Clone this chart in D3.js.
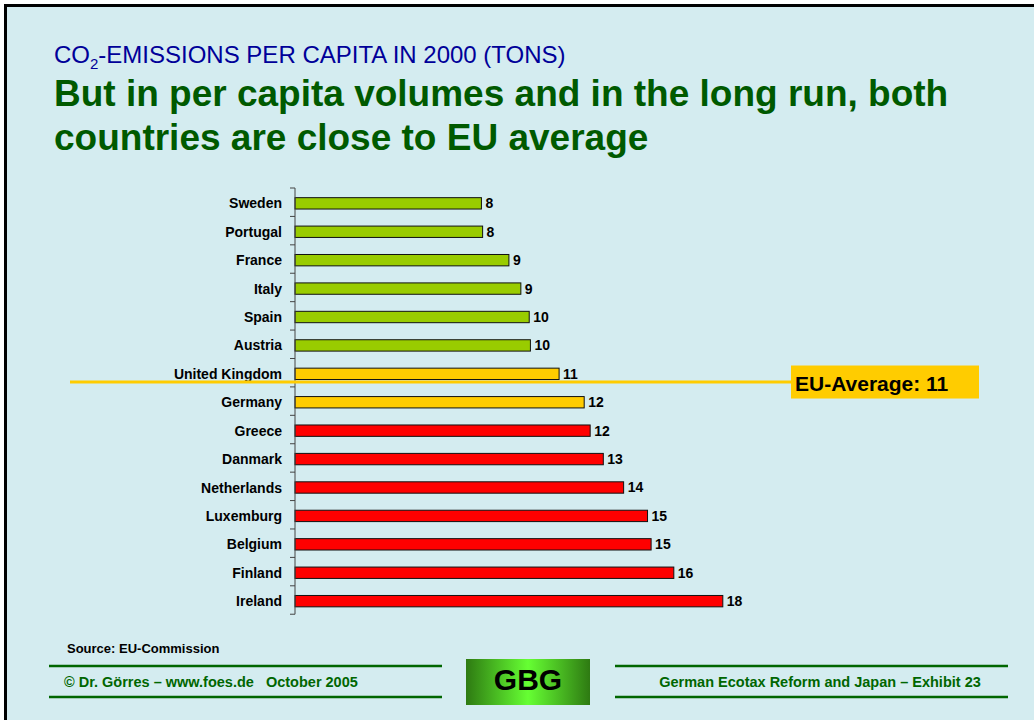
<!DOCTYPE html>
<html>
<head>
<meta charset="utf-8">
<script src="https://cdn.jsdelivr.net/npm/d3@7"></script>
<style>
  html, body { margin: 0; padding: 0; background: #ffffff; }
  svg { display: block; font-family: Arial, "Liberation Sans", sans-serif; }
</style>
</head>
<body>
<svg id="chart" width="1034" height="720"></svg>
<script>
/* data: tons of CO2 per capita, 2000 */
var countries = ["Sweden", "Portugal", "France", "Italy", "Spain", "Austria",
  "United Kingdom", "Germany", "Greece", "Danmark", "Netherlands",
  "Luxemburg", "Belgium", "Finland", "Ireland"];
var emissions = [7.8, 7.85, 8.95, 9.45, 9.8, 9.85, 11.05, 12.1, 12.35,
  12.9, 13.75, 14.75, 14.9, 15.85, 17.9];
var groups = ["below", "below", "below", "below", "below", "below",
  "average", "average", "above", "above", "above", "above", "above", "above", "above"];
var euAverage = 11;

var groupColor = { below: "#99cc00", average: "#ffcc00", above: "#ff0000" };

var svg = d3.select("#chart");

/* slide background and the left/top frame */
svg.append("rect").attr("x", 4).attr("y", 4).attr("width", 1030).attr("height", 716)
  .attr("fill", "#d4ecf0");
svg.append("path").attr("d", "M5.5,720V5.5H1034")
  .attr("fill", "none").attr("stroke", "#000").attr("stroke-width", 3);

/* headings */
var sub = svg.append("text").attr("x", 54).attr("y", 63)
  .attr("fill", "#000099").style("font-size", "24px");
sub.append("tspan").text("CO");
sub.append("tspan").attr("dy", 6).style("font-size", "15px").text("2");
sub.append("tspan").attr("dy", -6).text("-EMISSIONS PER CAPITA IN 2000 (TONS)");

svg.append("g").selectAll("text")
  .data(["But in per capita volumes and in the long run, both",
         "countries are close to EU average"])
  .enter().append("text")
  .attr("x", 54)
  .attr("y", function(d, i) { return 106 + i * 44; })
  .attr("fill", "#005a00")
  .style("font-size", "37px").style("font-weight", "bold")
  .text(function(d) { return d; });

/* scales */
var x = d3.scaleLinear().domain([0, 20]).range([295, 773]);
var y = d3.scaleBand().domain(countries).range([188, 616.5]).paddingInner(0.6).paddingOuter(0.34);

/* bars */
var rows = countries.map(function(c, i) {
  return { name: c, value: emissions[i], group: groups[i] };
});

var g = svg.append("g");

g.selectAll("rect.bar")
  .data(rows)
  .enter().append("rect")
  .attr("class", "bar")
  .attr("x", x(0))
  .attr("y", function(d) { return y(d.name); })
  .attr("width", function(d) { return x(d.value) - x(0); })
  .attr("height", y.bandwidth())
  .attr("fill", function(d) { return groupColor[d.group]; })
  .attr("stroke", "#111").attr("stroke-width", 1);

g.selectAll("text.val")
  .data(rows)
  .enter().append("text")
  .attr("class", "val")
  .attr("x", function(d) { return x(d.value) + 4; })
  .attr("y", function(d) { return y(d.name) + y.bandwidth() / 2 + 5; })
  .style("font-size", "14px").style("font-weight", "bold")
  .text(function(d) { return Math.round(d.value); });

/* category axis: labels plus ticks between bands */
var yAxis = d3.axisLeft(y).tickSize(0).tickPadding(13);
var ax = svg.append("g").attr("transform", "translate(" + x(0) + ",0)").call(yAxis);
ax.select(".domain").remove();
ax.selectAll("text").style("font-size", "14px").style("font-weight", "bold")
  .style("font-family", "Arial, 'Liberation Sans', sans-serif")
  .attr("fill", "#000").attr("dy", "0.36em");

var step = y.step();
var edges = d3.range(countries.length + 1).map(function(i) { return 188 + i * step; });
svg.append("line").attr("x1", x(0)).attr("x2", x(0))
  .attr("y1", edges[0]).attr("y2", edges[edges.length - 1])
  .attr("stroke", "#444").attr("stroke-width", 1);
svg.append("g").selectAll("line")
  .data(edges).enter().append("line")
  .attr("x1", x(0) - 5).attr("x2", x(0))
  .attr("y1", function(d) { return d; }).attr("y2", function(d) { return d; })
  .attr("stroke", "#444").attr("stroke-width", 1);

/* EU average marker, just under the UK bar */
var avgY = y("United Kingdom") + y.bandwidth() + 2.5;
svg.append("line").attr("x1", 70).attr("x2", 792)
  .attr("y1", avgY).attr("y2", avgY)
  .attr("stroke", "#ffcc00").attr("stroke-width", 3);
svg.append("rect").attr("x", 791).attr("y", avgY - 16.5).attr("width", 188).attr("height", 33)
  .attr("fill", "#ffcc00");
svg.append("text").attr("x", 795).attr("y", avgY + 8.5)
  .style("font-size", "21px").style("font-weight", "bold")
  .text("EU-Average: " + euAverage);

/* footer */
svg.append("text").attr("x", 67).attr("y", 652.5)
  .style("font-size", "13px").style("font-weight", "bold")
  .text("Source: EU-Commission");

var footGreen = "#006600";
[[49, 442], [615, 1008]].forEach(function(s) {
  [666, 697].forEach(function(yy) {
    svg.append("line").attr("x1", s[0]).attr("x2", s[1]).attr("y1", yy).attr("y2", yy)
      .attr("stroke", footGreen).attr("stroke-width", 2.5);
  });
});
svg.append("text").attr("x", 64).attr("y", 687)
  .attr("fill", footGreen).style("font-size", "14.5px").style("font-weight", "bold")
  .attr("xml:space", "preserve")
  .text("\u00a9 Dr. G\u00f6rres \u2013 www.foes.de   October 2005");
svg.append("text").attr("x", 820).attr("y", 687).attr("text-anchor", "middle")
  .attr("fill", footGreen).style("font-size", "14.5px").style("font-weight", "bold")
  .text("German Ecotax Reform and Japan \u2013 Exhibit 23");

var defs = svg.append("defs");
var grad = defs.append("linearGradient").attr("id", "gbg");
grad.append("stop").attr("offset", "0%").attr("stop-color", "#2e7a12");
grad.append("stop").attr("offset", "50%").attr("stop-color", "#66ff33");
grad.append("stop").attr("offset", "100%").attr("stop-color", "#2e7a12");
svg.append("rect").attr("x", 466).attr("y", 659).attr("width", 124).attr("height", 46)
  .attr("fill", "url(#gbg)");
svg.append("text").attr("x", 528).attr("y", 689.5).attr("text-anchor", "middle")
  .style("font-size", "30px").style("font-weight", "bold")
  .text("GBG");
</script>
</body>
</html>
